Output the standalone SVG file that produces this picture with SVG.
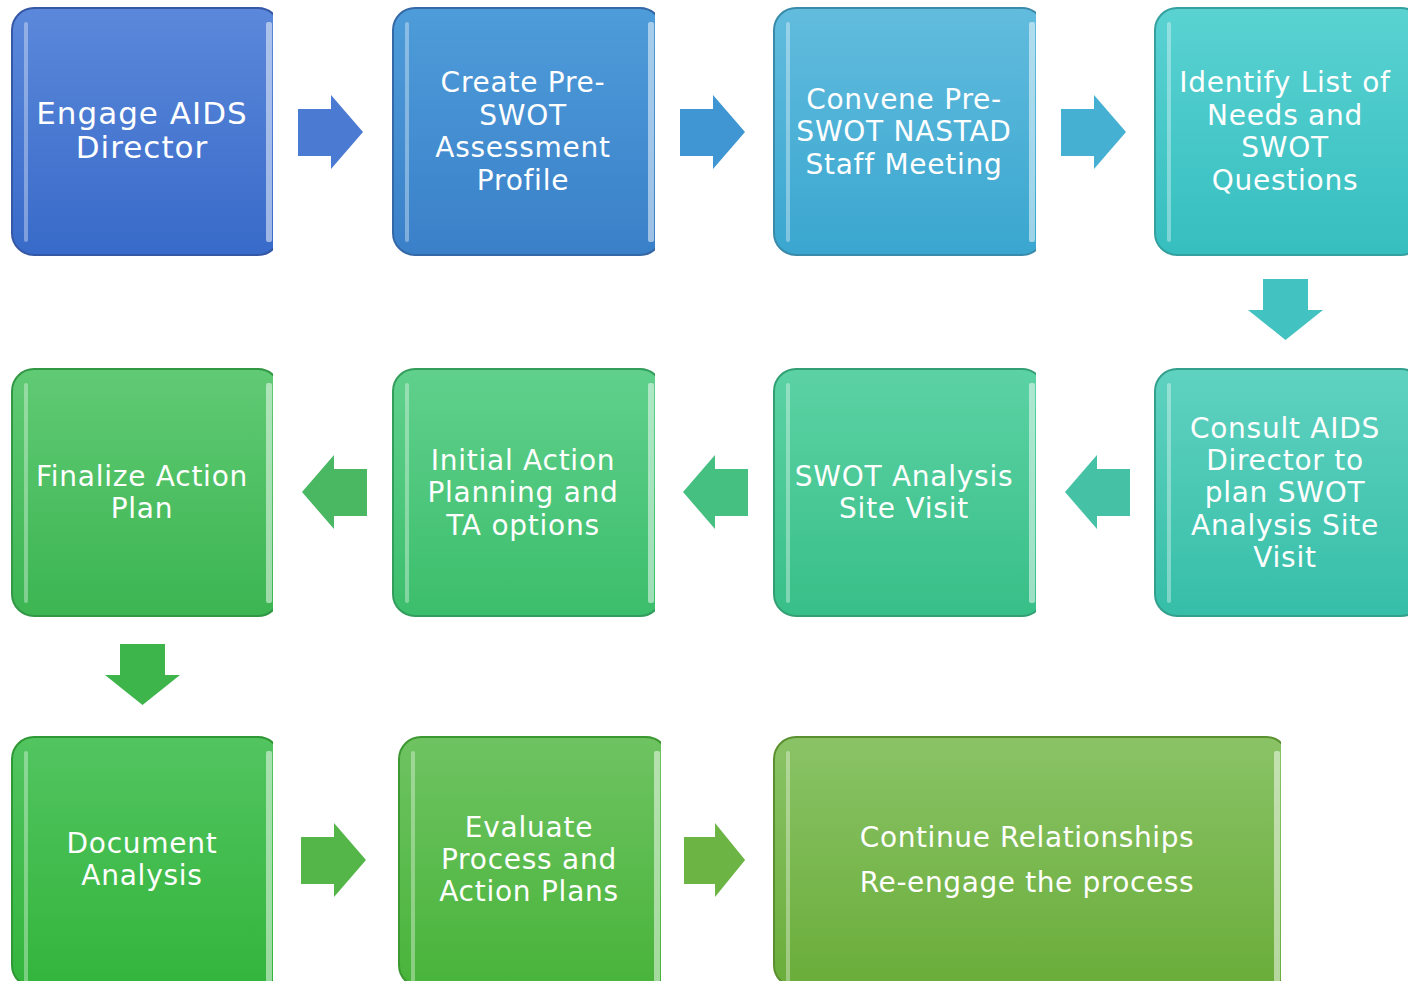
<svg xmlns="http://www.w3.org/2000/svg" width="1408" height="981" viewBox="0 0 1408 981">
  <style>
    .lbl { font-family: "DejaVu Sans", Verdana, sans-serif; font-size: 28px; letter-spacing: 0.75px; fill: #ffffff; text-anchor: middle; }
    .big { font-size: 31px; letter-spacing: 1px; }
    .shine { fill: #ffffff; opacity: 0.35; }
    .shineR { fill: #ffffff; opacity: 0.5; }
  </style>
  <defs>
    <linearGradient id="g1" x1="0" y1="0" x2="0" y2="1"><stop offset="0" stop-color="#5b88da"/><stop offset="1" stop-color="#386ac9"/></linearGradient>
    <linearGradient id="g2" x1="0" y1="0" x2="0" y2="1"><stop offset="0" stop-color="#4e9cd9"/><stop offset="1" stop-color="#3a80c9"/></linearGradient>
    <linearGradient id="g3" x1="0" y1="0" x2="0" y2="1"><stop offset="0" stop-color="#62bcde"/><stop offset="1" stop-color="#3aa6cf"/></linearGradient>
    <linearGradient id="g4" x1="0" y1="0" x2="0" y2="1"><stop offset="0" stop-color="#5ad2d2"/><stop offset="1" stop-color="#36bebf"/></linearGradient>
    <linearGradient id="g5" x1="0" y1="0" x2="0" y2="1"><stop offset="0" stop-color="#5fd2c0"/><stop offset="1" stop-color="#36bea8"/></linearGradient>
    <linearGradient id="g6" x1="0" y1="0" x2="0" y2="1"><stop offset="0" stop-color="#5cd2a4"/><stop offset="1" stop-color="#38bf88"/></linearGradient>
    <linearGradient id="g7" x1="0" y1="0" x2="0" y2="1"><stop offset="0" stop-color="#60d08c"/><stop offset="1" stop-color="#3cbe6c"/></linearGradient>
    <linearGradient id="g8" x1="0" y1="0" x2="0" y2="1"><stop offset="0" stop-color="#60ca74"/><stop offset="1" stop-color="#3cb552"/></linearGradient>
    <linearGradient id="g9" x1="0" y1="0" x2="0" y2="1"><stop offset="0" stop-color="#52c460"/><stop offset="1" stop-color="#33b53c"/></linearGradient>
    <linearGradient id="g10" x1="0" y1="0" x2="0" y2="1"><stop offset="0" stop-color="#6fc362"/><stop offset="1" stop-color="#48b43a"/></linearGradient>
    <linearGradient id="g11" x1="0" y1="0" x2="0" y2="1"><stop offset="0" stop-color="#8ac366"/><stop offset="1" stop-color="#6aad3a"/></linearGradient>
    <clipPath id="c1"><rect x="0" y="0" width="273" height="981"/></clipPath>
    <clipPath id="c2"><rect x="380" y="0" width="275" height="981"/></clipPath>
    <clipPath id="c3"><rect x="760" y="0" width="276" height="981"/></clipPath>
    <clipPath id="c4"><rect x="1140" y="0" width="268" height="981"/></clipPath>
    <clipPath id="c5"><rect x="385" y="0" width="276" height="981"/></clipPath>
    <clipPath id="c6"><rect x="760" y="0" width="521" height="981"/></clipPath>
    <path id="arrR" d="M0,14 H33 V0 L65,37 L33,74 V61 H0 Z"/>
    <path id="arrD" d="M15,0 H60 V31 H75 L37.5,61 L0,31 H15 Z"/>
  </defs>

  <!-- process steps -->
  <g id="step-engage" clip-path="url(#c1)">
    <rect x="12" y="8" width="268" height="247" rx="22" fill="url(#g1)" stroke="#3558a6" stroke-width="2"/>
    <rect class="shine" x="24" y="22" width="4" height="220" rx="2"/>
    <rect class="shineR" x="266" y="22" width="6" height="220" rx="2"/>
    <text class="lbl big" x="142" y="124">Engage AIDS</text>
    <text class="lbl big" x="142" y="158">Director</text>
  </g>
  <g id="step-profile" clip-path="url(#c2)">
    <rect x="393" y="8" width="269" height="247" rx="22" fill="url(#g2)" stroke="#3468a6" stroke-width="2"/>
    <rect class="shine" x="405" y="22" width="4" height="220" rx="2"/>
    <rect class="shineR" x="648" y="22" width="6" height="220" rx="2"/>
    <text class="lbl" x="523" y="92">Create Pre-</text>
    <text class="lbl" x="523" y="125">SWOT</text>
    <text class="lbl" x="523" y="157">Assessment</text>
    <text class="lbl" x="523" y="190">Profile</text>
  </g>
  <g id="step-staff" clip-path="url(#c3)">
    <rect x="774" y="8" width="270" height="247" rx="22" fill="url(#g3)" stroke="#3a8aaa" stroke-width="2"/>
    <rect class="shine" x="786" y="22" width="4" height="220" rx="2"/>
    <rect class="shineR" x="1029" y="22" width="6" height="220" rx="2"/>
    <text class="lbl" x="904" y="109">Convene Pre-</text>
    <text class="lbl" x="904" y="141">SWOT NASTAD</text>
    <text class="lbl" x="904" y="174">Staff Meeting</text>
  </g>
  <g id="step-needs" clip-path="url(#c4)">
    <rect x="1155" y="8" width="268" height="247" rx="22" fill="url(#g4)" stroke="#34a0a0" stroke-width="2"/>
    <rect class="shine" x="1167" y="22" width="4" height="220" rx="2"/>
    <text class="lbl" x="1285" y="92">Identify List of</text>
    <text class="lbl" x="1285" y="125">Needs and</text>
    <text class="lbl" x="1285" y="157">SWOT</text>
    <text class="lbl" x="1285" y="190">Questions</text>
  </g>
  <g id="step-consult" clip-path="url(#c4)">
    <rect x="1155" y="369" width="268" height="247" rx="22" fill="url(#g5)" stroke="#33a08e" stroke-width="2"/>
    <rect class="shine" x="1167" y="383" width="4" height="220" rx="2"/>
    <text class="lbl" x="1285" y="438">Consult AIDS</text>
    <text class="lbl" x="1285" y="470">Director to</text>
    <text class="lbl" x="1285" y="502">plan SWOT</text>
    <text class="lbl" x="1285" y="535">Analysis Site</text>
    <text class="lbl" x="1285" y="567">Visit</text>
  </g>
  <g id="step-visit" clip-path="url(#c3)">
    <rect x="774" y="369" width="270" height="247" rx="22" fill="url(#g6)" stroke="#33a074" stroke-width="2"/>
    <rect class="shine" x="786" y="383" width="4" height="220" rx="2"/>
    <rect class="shineR" x="1029" y="383" width="6" height="220" rx="2"/>
    <text class="lbl" x="904" y="486">SWOT Analysis</text>
    <text class="lbl" x="904" y="518">Site Visit</text>
  </g>
  <g id="step-initial" clip-path="url(#c2)">
    <rect x="393" y="369" width="269" height="247" rx="22" fill="url(#g7)" stroke="#339e5c" stroke-width="2"/>
    <rect class="shine" x="405" y="383" width="4" height="220" rx="2"/>
    <rect class="shineR" x="648" y="383" width="6" height="220" rx="2"/>
    <text class="lbl" x="523" y="470">Initial Action</text>
    <text class="lbl" x="523" y="502">Planning and</text>
    <text class="lbl" x="523" y="535">TA options</text>
  </g>
  <g id="step-finalize" clip-path="url(#c1)">
    <rect x="12" y="369" width="268" height="247" rx="22" fill="url(#g8)" stroke="#339846" stroke-width="2"/>
    <rect class="shine" x="24" y="383" width="4" height="220" rx="2"/>
    <rect class="shineR" x="266" y="383" width="6" height="220" rx="2"/>
    <text class="lbl" x="142" y="486">Finalize Action</text>
    <text class="lbl" x="142" y="518">Plan</text>
  </g>
  <g id="step-document" clip-path="url(#c1)">
    <rect x="12" y="737" width="268" height="250" rx="22" fill="url(#g9)" stroke="#2e9834" stroke-width="2"/>
    <rect class="shine" x="24" y="751" width="4" height="240" rx="2"/>
    <rect class="shineR" x="266" y="751" width="6" height="240" rx="2"/>
    <text class="lbl" x="142" y="853">Document</text>
    <text class="lbl" x="142" y="885">Analysis</text>
  </g>
  <g id="step-evaluate" clip-path="url(#c5)">
    <rect x="399" y="737" width="269" height="250" rx="22" fill="url(#g10)" stroke="#3c9830" stroke-width="2"/>
    <rect class="shine" x="411" y="751" width="4" height="240" rx="2"/>
    <rect class="shineR" x="654" y="751" width="6" height="240" rx="2"/>
    <text class="lbl" x="529" y="837">Evaluate</text>
    <text class="lbl" x="529" y="869">Process and</text>
    <text class="lbl" x="529" y="901">Action Plans</text>
  </g>
  <g id="step-continue" clip-path="url(#c6)">
    <rect x="774" y="737" width="514" height="250" rx="22" fill="url(#g11)" stroke="#5a9030" stroke-width="2"/>
    <rect class="shine" x="786" y="751" width="4" height="240" rx="2"/>
    <rect class="shineR" x="1274" y="751" width="6" height="240" rx="2"/>
    <text class="lbl" x="1027" y="847" style="letter-spacing:0.6px">Continue Relationships</text>
    <text class="lbl" x="1027" y="892" style="letter-spacing:0.6px">Re-engage the process</text>
  </g>

  <!-- flow arrows -->
  <g id="connectors">
    <use href="#arrR" transform="translate(298,95)" fill="#4a7ad2"/>
    <use href="#arrR" transform="translate(680,95)" fill="#3f96d2"/>
    <use href="#arrR" transform="translate(1061,95)" fill="#45b0d2"/>
    <use href="#arrD" transform="translate(1248,279)" fill="#42c2c0"/>
    <use href="#arrR" transform="translate(1130,455) scale(-1,1)" fill="#45c2a6"/>
    <use href="#arrR" transform="translate(748,455) scale(-1,1)" fill="#46c080"/>
    <use href="#arrR" transform="translate(367,455) scale(-1,1)" fill="#4ab862"/>
    <use href="#arrD" transform="translate(105,644)" fill="#3db54a"/>
    <use href="#arrR" transform="translate(301,823)" fill="#54b548"/>
    <use href="#arrR" transform="translate(684,823) scale(0.94,1)" fill="#6cb545"/>
  </g>
</svg>
